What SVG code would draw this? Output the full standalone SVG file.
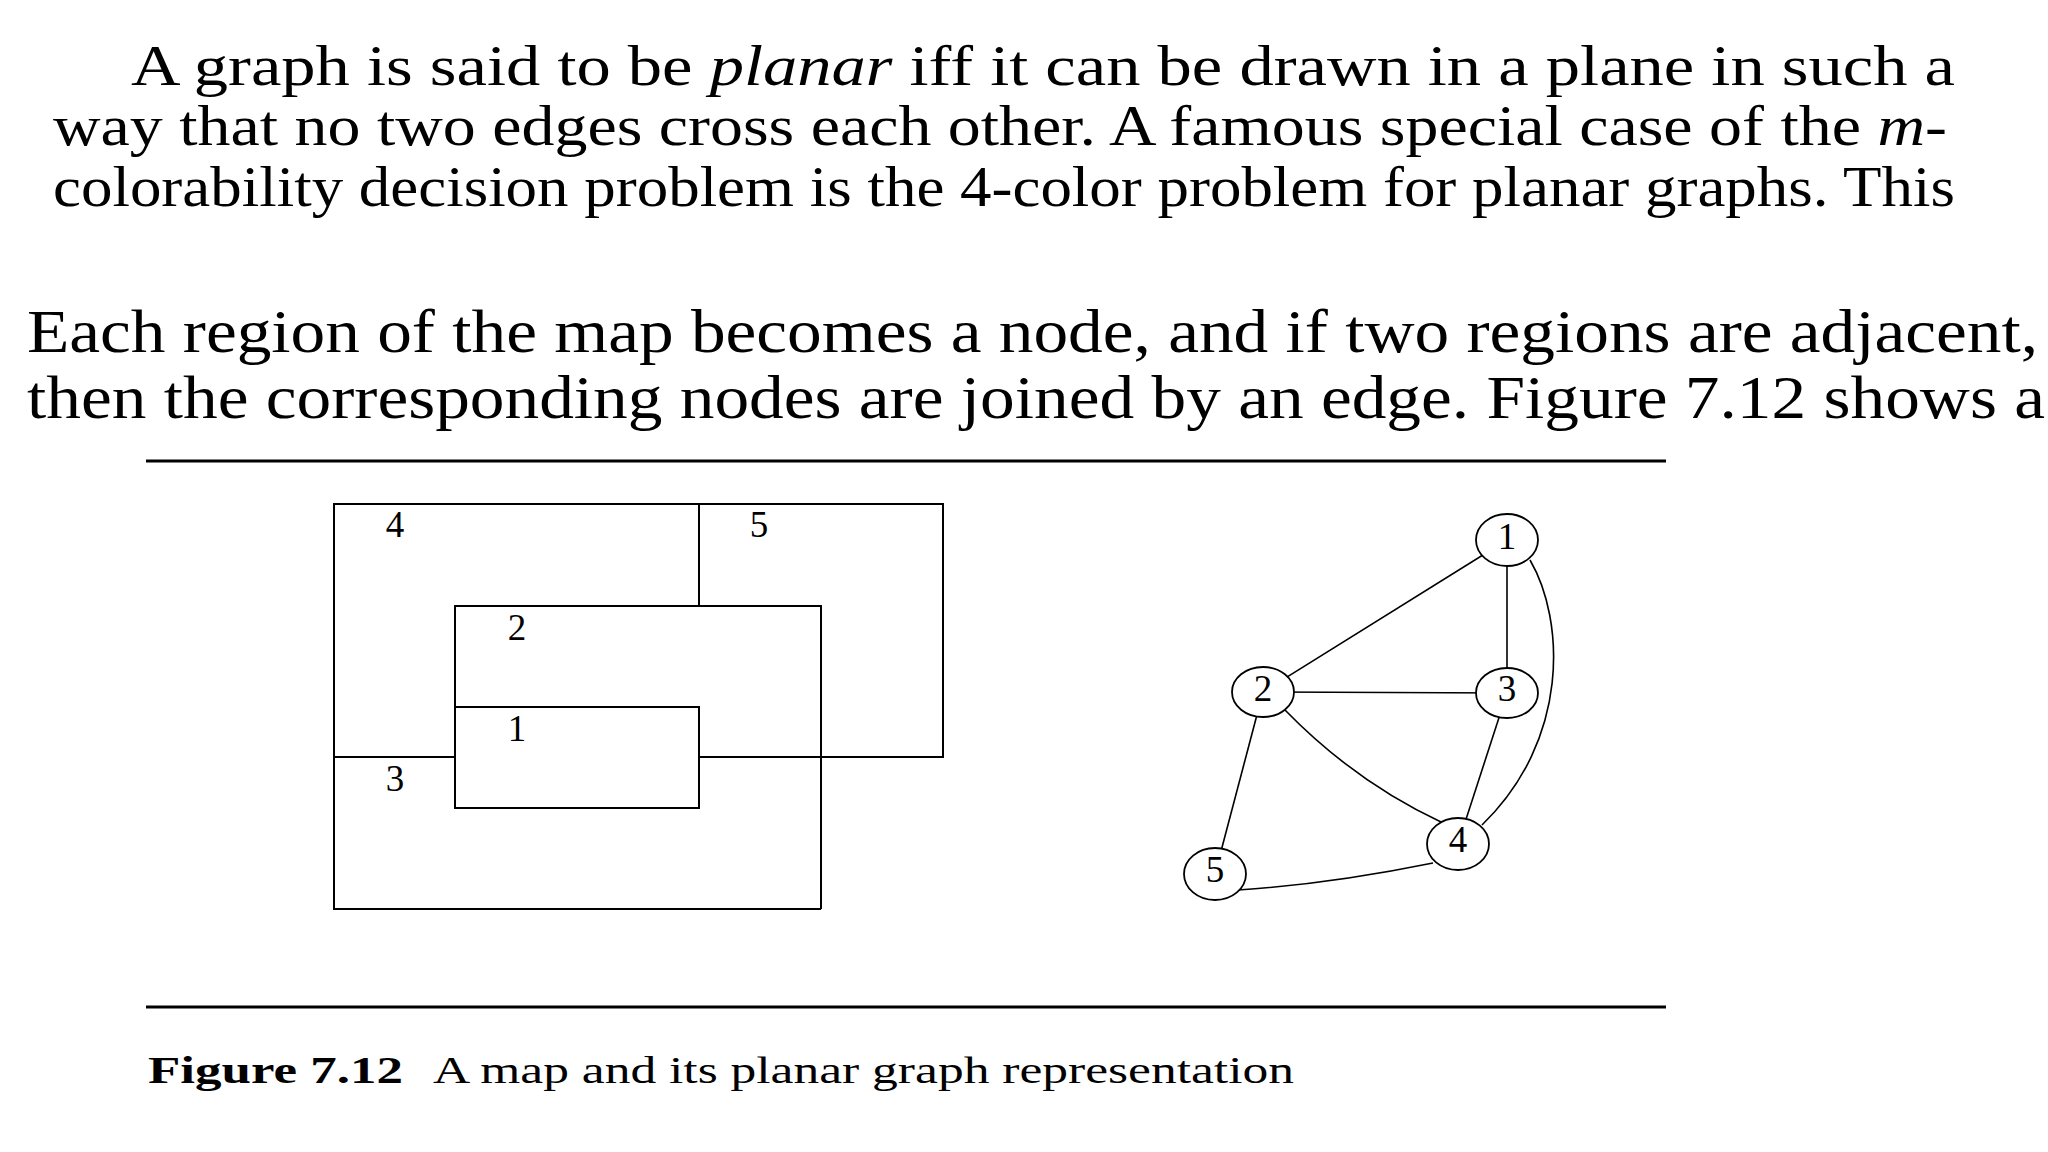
<svg xmlns="http://www.w3.org/2000/svg" width="2048" height="1152" viewBox="0 0 2048 1152">
<style>
  .body { font-family: "Liberation Serif", "Times New Roman", serif; fill: #000; }
  .p1 { font-size: 58px; }
  .p2 { font-size: 62px; }
  .cap { font-size: 38px; }
  .it { font-style: italic; }
  .bold { font-weight: bold; }
  .rule { stroke: #000; stroke-width: 3; }
  .map { fill: none; stroke: #000; stroke-width: 2; }
  .lbl { font-family: "Liberation Serif", "Times New Roman", serif; font-size: 37px; text-anchor: middle; fill: #000; }
  .edge { fill: none; stroke: #000; stroke-width: 1.6; }
  .node { fill: #fff; stroke: #000; stroke-width: 1.8; }
</style>
<rect width="2048" height="1152" fill="#fff"/>

<g id="text-top" class="body">
  <text class="p1" x="131" y="85" textLength="1824" lengthAdjust="spacingAndGlyphs">A graph is said to be <tspan class="it">planar</tspan> iff it can be drawn in a plane in such a</text>
  <text class="p1" x="53" y="145" textLength="1894" lengthAdjust="spacingAndGlyphs">way that no two edges cross each other.  A famous special case of the <tspan class="it">m</tspan>-</text>
  <text class="p1" x="53" y="206" textLength="1902" lengthAdjust="spacingAndGlyphs">colorability decision problem is the 4-color problem for planar graphs. This</text>
  <text class="p2" x="27" y="352" textLength="2011" lengthAdjust="spacingAndGlyphs">Each region of the map becomes a node, and if two regions are adjacent,</text>
  <text class="p2" x="27" y="418" textLength="2018" lengthAdjust="spacingAndGlyphs">then the corresponding nodes are joined by an edge.  Figure 7.12 shows a</text>
</g>

<g id="rules">
  <line class="rule" x1="146" y1="461" x2="1666" y2="461"/>
  <line class="rule" x1="146" y1="1007" x2="1666" y2="1007"/>
</g>

<g id="map">
  <g id="region-4">
    <path class="map" d="M334,758 L334,504 L699,504 L699,606"/>
    <text class="lbl" x="395" y="537">4</text>
  </g>
  <g id="region-5">
    <path class="map" d="M699,504 L943,504 L943,757 L699,757"/>
    <text class="lbl" x="759" y="537">5</text>
  </g>
  <g id="region-2">
    <path class="map" d="M455,707 L455,606 L821,606 L821,909"/>
    <text class="lbl" x="517" y="640">2</text>
  </g>
  <g id="region-1">
    <rect class="map" x="455" y="707" width="244" height="101"/>
    <text class="lbl" x="517" y="741">1</text>
  </g>
  <g id="region-3">
    <path class="map" d="M334,757 L455,757 M334,757 L334,909 L821,909"/>
    <text class="lbl" x="395" y="791">3</text>
  </g>
</g>

<g id="connectors">
  <line class="edge" x1="1507" y1="540" x2="1263" y2="692"/>
  <line class="edge" x1="1507" y1="540" x2="1507" y2="693"/>
  <path class="edge" d="M1530,560 C1565,620 1570,740 1482,825"/>
  <line class="edge" x1="1263" y1="692" x2="1507" y2="693"/>
  <path class="edge" d="M1285,710 Q1355,782 1443,823"/>
  <line class="edge" x1="1263" y1="692" x2="1215" y2="874"/>
  <line class="edge" x1="1507" y1="693" x2="1458" y2="844"/>
  <path class="edge" d="M1238,890 Q1330,884 1433,863"/>
</g>

<g id="node-1">
  <ellipse class="node" cx="1507" cy="540" rx="31" ry="26"/>
  <text class="lbl" x="1507" y="549">1</text>
</g>
<g id="node-2">
  <ellipse class="node" cx="1263" cy="692" rx="31" ry="25"/>
  <text class="lbl" x="1263" y="701">2</text>
</g>
<g id="node-3">
  <ellipse class="node" cx="1507" cy="693" rx="31" ry="25"/>
  <text class="lbl" x="1507" y="701">3</text>
</g>
<g id="node-4">
  <ellipse class="node" cx="1458" cy="844" rx="31" ry="26"/>
  <text class="lbl" x="1458" y="852">4</text>
</g>
<g id="node-5">
  <ellipse class="node" cx="1215" cy="874" rx="31" ry="26"/>
  <text class="lbl" x="1215" y="882">5</text>
</g>

<g id="caption" class="body">
  <text class="cap" x="148" y="1083"><tspan class="bold" textLength="255" lengthAdjust="spacingAndGlyphs">Figure 7.12</tspan></text>
  <text class="cap" x="433" y="1083" textLength="861" lengthAdjust="spacingAndGlyphs">A map and its planar graph representation</text>
</g>
</svg>
